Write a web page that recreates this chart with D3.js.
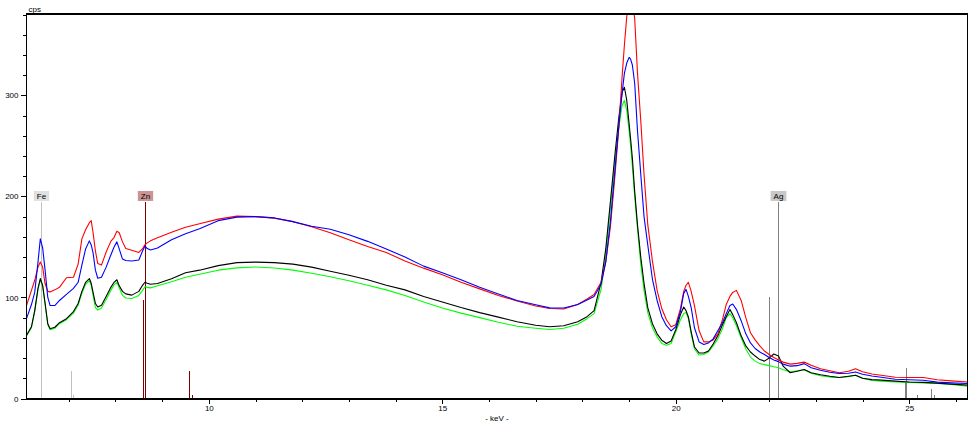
<!DOCTYPE html>
<html><head><meta charset="utf-8">
<script src="https://cdn.jsdelivr.net/npm/d3@7"></script>
<style>
body{margin:0;background:#fff;}
svg{display:block;}
text{font-family:"Liberation Sans",Arial,sans-serif;font-size:8px;fill:#000;}
</style>
</head><body>
<svg id="c" width="975" height="425"></svg>
<script>
// ---------- data ----------
const kev = [
6.094, 6.2, 6.27, 6.34, 6.39, 6.44, 6.49, 6.55, 6.6, 6.7,
6.8, 6.95, 7.1, 7.2, 7.28, 7.36, 7.44, 7.48, 7.52, 7.57,
7.62, 7.7, 7.8, 7.9, 7.97, 8.03, 8.08, 8.15, 8.22, 8.35,
8.5, 8.58, 8.63, 8.68, 8.75, 8.9, 9.2, 9.5, 9.8, 10.2,
10.6, 11.0, 11.4, 11.8, 12.2, 12.6, 13.0, 13.4, 13.8, 14.2,
14.6, 15.0, 15.4, 15.8, 16.2, 16.6, 17.0, 17.3, 17.6, 17.9,
18.1, 18.25, 18.4, 18.5, 18.6, 18.7, 18.78, 18.85, 18.9, 18.95,
19.0, 19.03, 19.07, 19.12, 19.18, 19.25, 19.32, 19.4, 19.5, 19.6,
19.7, 19.8, 19.9, 20.0, 20.1, 20.17, 20.22, 20.27, 20.33, 20.4,
20.5, 20.6, 20.7, 20.8, 20.9, 21.0, 21.08, 21.16, 21.22, 21.3,
21.4, 21.5, 21.6, 21.7, 21.8, 21.9, 22.0, 22.1, 22.2, 22.3,
22.45, 22.6, 22.75, 22.9, 23.1, 23.3, 23.5, 23.7, 23.85, 24.0,
24.2, 24.4, 24.7, 25.0, 25.3, 25.6, 25.9, 26.248];

const cpsRed = [
92, 107, 117, 130, 135, 130, 114, 106, 105.5, 107.5,
110, 119.5, 120, 133, 158, 167, 174, 176, 164, 146,
133.5, 132, 145, 155.5, 159.5, 165.5, 164, 155, 148.4, 146.7,
144.5, 148.4, 152, 154, 156, 159, 164.5, 169.5, 173, 177.5,
180.5, 180, 178.5, 175, 170, 164, 157, 150.5, 144.5, 136,
129, 122.5, 115, 108.5, 102, 96.5, 91.5, 89, 88.5, 93,
98.5, 103, 115, 135, 170, 222, 268, 318, 350, 378,
392, 396, 392, 376, 322, 275, 222, 172, 136, 107,
89, 78, 71, 73, 89, 106, 112, 115, 106, 92,
67, 56, 56, 58, 64, 78, 93, 101, 105, 107,
97, 80, 65, 58, 52, 47, 43.5, 40.5, 38, 36,
34, 34.8, 36, 33, 29.5, 27.5, 25.5, 27, 29.5, 26.5,
24.2, 23, 21, 20.8, 20.8, 18.5, 17.4, 16.4];

const cpsBlue = [
79, 93, 105, 135, 158, 149, 128, 100, 92, 92,
97, 103, 109, 115, 132, 148, 156, 152, 144, 127,
119, 120, 130, 142, 150, 155, 148, 138, 136.5, 136,
137, 146, 151, 148.4, 147, 149, 157, 163, 168, 176,
179.5, 180, 178.7, 175, 170.5, 167.5, 162, 155.5, 148, 140,
131, 124.5, 117.5, 110, 103.5, 97, 92.8, 89.7, 89.5, 93,
97.5, 101, 113, 135, 175, 228, 270, 302, 322, 332,
337.5, 336, 330, 312, 265, 222, 180, 152, 118, 97,
81, 72, 67, 71, 86, 104, 108, 101, 90, 70,
56, 53.5, 55, 59, 67, 75, 84, 92, 93.5, 88,
77, 64, 55, 49.5, 46, 43.5, 40.5, 38, 36.5, 34,
32, 32.5, 34.5, 30.5, 28, 26, 24.8, 25, 26.3, 24,
22.3, 21, 19, 18.5, 18, 16.2, 15.5, 14.8];

const cpsBlack = [
62.6, 71, 87, 109, 118.7, 112, 95, 74, 69, 70.5,
75, 79, 86, 94, 106, 115, 118.7, 114, 105, 94,
90.5, 92.3, 101, 110, 115, 117.5, 111.5, 106, 103.5, 102.3,
106, 112, 115, 114, 113, 113.8, 118.5, 124.5, 127, 131.5,
134.5, 135, 134.5, 133, 130, 126, 122, 117.5, 112, 107.5,
101, 95.5, 90, 85, 80.5, 76, 72.5, 71, 72, 76,
81, 87, 115, 148, 195, 243, 278, 303, 308, 295,
272, 258, 238, 205, 172, 140, 114, 90, 74, 64,
57.7, 54.5, 57, 68, 83, 90.5, 87, 80.7, 66, 51,
45, 45, 47, 54, 62, 73, 81, 88, 83, 75,
62, 52, 46, 42, 38.5, 37, 40, 44, 42, 32,
25.5, 27, 28.7, 25.5, 23.5, 22, 20.8, 22, 23, 20,
18.7, 18.2, 17.2, 16.4, 16, 15.2, 14.2, 13.2];

const cpsGreen = [
62, 70, 86, 108, 117.5, 111, 94, 73, 68, 69.5,
74, 78, 84.5, 92.5, 104, 113, 116.5, 112, 102, 90,
87.5, 89.5, 98, 107, 112.5, 115, 109.5, 102, 99.5, 99,
102, 107, 110.5, 110, 109.5, 111.5, 115.5, 120, 123, 127,
129.3, 130.2, 129.2, 127, 124, 120.5, 116.5, 112, 107.5, 102,
95.5, 89.5, 84.5, 80, 75.5, 71.5, 69.5, 68.3, 69.5, 73.5,
79, 84, 108, 143, 188, 237, 268, 290, 295, 285,
265, 252, 230, 200, 168, 133, 107, 85, 70, 61,
54.5, 52.7, 54.5, 66, 78, 84, 85, 79, 64, 49,
43, 43.5, 46, 52, 59, 69, 80, 84, 80, 72,
60, 49, 41, 37, 34.5, 33.5, 32.5, 31.5, 30.5, 28.5,
26.5, 27.5, 28.5, 25, 22.5, 21.2, 20.8, 21.5, 23, 20,
17.8, 17, 16.3, 16, 15.4, 15, 14, 12.2];

const seriesOrder = ["green", "black", "red", "blue"];
const seriesColor = {green: "#00ff00", black: "#000000", red: "#ff0000", blue: "#0000ff"};
const seriesData = {green: cpsGreen, black: cpsBlack, red: cpsRed, blue: cpsBlue};

const yMajorTicks = [0, 100, 200, 300];
const yMinorTicks = d3.range(0, 381, 20);
const xMajorTicks = [10, 15, 20, 25];
const xMinorTicks = d3.range(7, 27, 1);
const xDomain = [6.094, 26.248];
const yDomain = [0, 380];
const xTitle = "- keV -";
const xTitleKeV = 16.17;
const yTitle = "cps";

// element markers (label + full line)
const markerName = ["Fe", "Zn", "Ag"];
const markerKeV = [6.40, 8.64, 22.18];
const markerCps = [194.5, 194.5, 194.5];
const markerLineColor = {Fe: "#c0c0c0", Zn: "#800000", Ag: "#808080"};
const markerBoxColor = {Fe: "#e0e0e0", Zn: "#c89494", Ag: "#c8c8c8"};

// secondary element lines
const lineEl  = ["Fe", "Fe", "Zn", "Zn", "Zn", "Ag", "Ag", "Ag", "Ag", "Ag", "Ag"];
const lineKeV = [7.05, 7.09, 8.595, 9.565, 9.64, 21.99, 24.91, 24.94, 25.16, 25.46, 25.52];
const lineCps = [27, 3, 97, 27, 3, 100, 16, 30.6, 3, 9, 3];

// ---------- drawing ----------
const svg = d3.select("#c");
const L = 26.5, R = 967.5, T = 14.5, B = 398.5;
const x = d3.scaleLinear().domain(xDomain).range([L, R]);
const y = d3.scaleLinear().domain(yDomain).range([B, T]);

svg.append("defs").append("clipPath").attr("id", "clip")
  .append("rect").attr("x", L).attr("y", T).attr("width", R - L).attr("height", B - T);

// secondary lines
svg.append("g").selectAll("line").data(lineKeV).join("line")
  .attr("x1", d => Math.round(x(d)) + 0.5).attr("x2", d => Math.round(x(d)) + 0.5)
  .attr("y1", y(0)).attr("y2", (d, i) => y(lineCps[i]))
  .attr("stroke", (d, i) => markerLineColor[lineEl[i]]).attr("stroke-width", 1)
  .attr("shape-rendering", "crispEdges");

// marker lines
svg.append("g").selectAll("line").data(markerKeV).join("line")
  .attr("x1", d => Math.round(x(d)) + 0.5).attr("x2", d => Math.round(x(d)) + 0.5)
  .attr("y1", y(0)).attr("y2", (d, i) => y(markerCps[i]))
  .attr("stroke", (d, i) => markerLineColor[markerName[i]]).attr("stroke-width", 1)
  .attr("shape-rendering", "crispEdges");

// spectra
const line = d3.line().x((d, i) => x(kev[i])).y(d => y(d)).curve(d3.curveLinear);
const gS = svg.append("g").attr("clip-path", "url(#clip)");
seriesOrder.forEach(s => {
  gS.append("path").datum(seriesData[s]).attr("d", line)
    .attr("fill", "none").attr("stroke", seriesColor[s]).attr("stroke-width", 1.1)
    .attr("stroke-linejoin", "round");
});

// marker labels
const gM = svg.append("g");
markerKeV.forEach((k, i) => {
  const cx = Math.round(x(k)) + 0.5;
  const top = y(markerCps[i]);
  const t = gM.append("text").text(markerName[i]).attr("x", cx).attr("y", top - 2.5)
    .attr("text-anchor", "middle");
  const w = t.node().getComputedTextLength() + 6;
  gM.insert("rect", "text").attr("x", cx - w / 2).attr("y", top - 11).attr("width", w).attr("height", 10)
    .attr("fill", markerBoxColor[markerName[i]]);
});

// axes
const yAxisMinor = d3.axisLeft(y).tickValues(yMinorTicks).tickSize(4).tickFormat("");
const yAxisMajor = d3.axisLeft(y).tickValues(yMajorTicks).tickSize(6).tickPadding(2).tickFormat(d3.format("d"));
const xAxisMinor = d3.axisBottom(x).tickValues(xMinorTicks).tickSize(3).tickFormat("");
const xAxisMajor = d3.axisBottom(x).tickValues(xMajorTicks).tickSize(5).tickPadding(2).tickFormat(d3.format("d"));

function styleAxis(g) {
  g.select(".domain").remove();
  g.selectAll("line").attr("stroke", "#000").attr("shape-rendering", "crispEdges");
  g.selectAll("text").attr("font-family", "Liberation Sans, Arial, sans-serif").attr("font-size", 8).attr("fill", "#000");
}
svg.append("g").attr("transform", `translate(${L},0)`).call(yAxisMinor).call(styleAxis);
svg.append("g").attr("transform", `translate(${L},0)`).call(yAxisMajor).call(styleAxis);
svg.append("g").attr("transform", `translate(0,${B})`).call(xAxisMinor).call(styleAxis);
svg.append("g").attr("transform", `translate(0,${B})`).call(xAxisMajor).call(styleAxis);

// frame
svg.append("line").attr("x1", L - 0.5).attr("x2", R + 0.5).attr("y1", T - 0.5).attr("y2", T - 0.5)
  .attr("stroke", "#000").attr("stroke-width", 2).attr("shape-rendering", "crispEdges");
svg.append("line").attr("x1", L - 0.5).attr("x2", R + 0.5).attr("y1", B + 0.5).attr("y2", B + 0.5)
  .attr("stroke", "#000").attr("stroke-width", 2).attr("shape-rendering", "crispEdges");
svg.append("line").attr("x1", L).attr("x2", L).attr("y1", T - 1).attr("y2", B + 1)
  .attr("stroke", "#000").attr("stroke-width", 1).attr("shape-rendering", "crispEdges");
svg.append("line").attr("x1", R).attr("x2", R).attr("y1", T - 1).attr("y2", B + 1)
  .attr("stroke", "#000").attr("stroke-width", 1).attr("shape-rendering", "crispEdges");

// axis titles
svg.append("text").attr("x", L + 2).attr("y", T - 3).text(yTitle);
svg.append("text").attr("x", x(xTitleKeV)).attr("y", 421).attr("text-anchor", "middle").text(xTitle);
</script>
</body></html>
